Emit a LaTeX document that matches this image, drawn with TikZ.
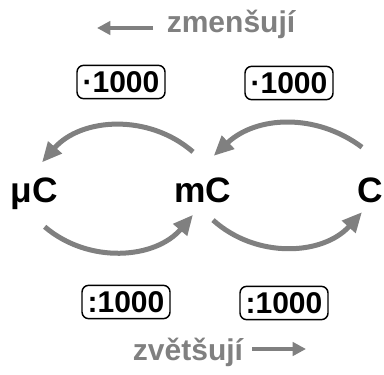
\documentclass[tikz,border=0pt]{standalone}
\usepackage{fontspec}
\setmainfont{Liberation Sans}
\usetikzlibrary{arrows.meta}
\usetikzlibrary{positioning}
\definecolor{arcgray}{RGB}{128,128,128}
\tikzset{
  unit/.style= {
    font = \bfseries\fontsize{26.5}{30}\selectfont,
    inner sep = 0pt
  },
  factor/.style= {
    draw,
    rounded corners = 5pt,
    line width = 1.1pt,
    minimum width = 66pt,
    minimum height = 25pt,
    inner sep = 0pt,
    font = \bfseries\fontsize{22.5}{25}\selectfont
  },
  hint/.style= {
    color = arcgray,
    font = \bfseries\fontsize{22.5}{27}\selectfont,
    inner sep = 0pt
  },
  hintarrow/.style= {
    draw = arcgray,
    line width = 3.5pt,
    -{Triangle[length=10pt,width=10pt]}
  },
  convert/.style= {
    draw = arcgray,
    line width = 3.75pt,
    -{Triangle[length=15pt,width=13pt]}
  }
}

\begin{document}
\begin{tikzpicture}[x=0.75pt,y=-0.75pt]
  \useasboundingbox (0,0) rectangle (384,374);

  % units
  \node[unit,anchor=base] (uC) at (34,202) {μC};
  \node[unit] (mC) at (203,190) {mC};
  \node[unit] (C) at (370,190) {C};

  % factors
  \node[factor] (upL) at (121,82) {·1000};
  \node[factor] (upR) at (289,83) {·1000};
  \node[factor] (downL) at (126,302) {:1000};
  \node[factor] (downR) at (284,303) {:1000};

  % direction hints
  \node[hint,anchor=base] (shrink) at (231,33) {zmenšují};
  \coordinate (shrinktail) at (153,28);
  \coordinate (shrinktip) at (97,28);
  \draw[hintarrow] (shrinktail) -- (shrinktip);

  \node[hint,anchor=base] (grow) at (188,360) {zvětšují};
  \coordinate (growtail) at (252,349);
  \coordinate (growtip) at (306,349);
  \draw[hintarrow] (growtail) -- (growtip);

  % conversions
  \draw[convert] ([xshift=-7.5pt,yshift=19pt]mC.north) to[bend right=45] ([xshift=6pt,yshift=11pt]uC.north);
  \draw[convert] ([xshift=-6pt,yshift=22.5pt]C.north) to[bend right=40] ([xshift=8pt,yshift=16pt]mC.north);
  \draw[convert] ([xshift=8pt,yshift=-13pt]uC.south) to[bend right=45] ([xshift=-7.5pt,yshift=-9pt]mC.south);
  \draw[convert] ([xshift=7.5pt,yshift=-13pt]mC.south) to[bend right=45] ([xshift=-6pt,yshift=-7pt]C.south);

\end{tikzpicture}
\end{document}
